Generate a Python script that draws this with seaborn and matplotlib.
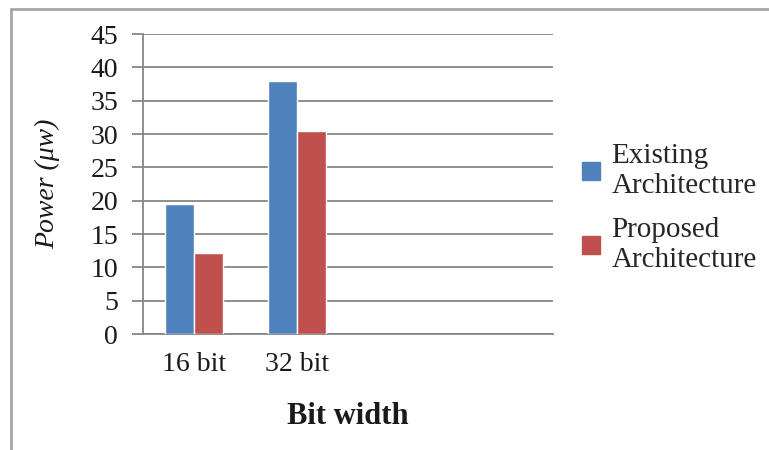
import pandas as pd
import seaborn as sns
import matplotlib.pyplot as plt
from matplotlib.lines import Line2D

# data
bit_widths = ['16 bit', '32 bit']
existing = [19.5, 38.0]
proposed = [12.2, 30.5]
series_names = ['Existing\nArchitecture', 'Proposed\nArchitecture']
colors = ['#4F81BD', '#C0504D']

df = pd.DataFrame({
    'Bit width': bit_widths * 2,
    'Power': existing + proposed,
    'Series': [series_names[0]] * 2 + [series_names[1]] * 2,
})

sns.set_theme(style='white')
plt.rcParams['font.family'] = ['Liberation Serif', 'DejaVu Serif']

fig = plt.figure(figsize=(7.69, 4.5), dpi=100)
ax = fig.add_axes([143/769, 1 - 334/450, (553-143)/769, 300/450])

sns.barplot(data=df, x='Bit width', y='Power', hue='Series', palette=colors,
            width=0.57, saturation=1, ax=ax, zorder=3)

ax.set_xlim(-0.5, 3.5)
ax.set_ylim(0, 45)
ax.set_yticks(range(0, 46, 5))
ax.yaxis.grid(True, color='#868686', linewidth=1.3, zorder=0)
ax.set_axisbelow(True)
for s in ['top', 'right']:
    ax.spines[s].set_visible(False)
for s in ['left', 'bottom']:
    ax.spines[s].set_color('#868686')
    ax.spines[s].set_linewidth(1.3)

ax.tick_params(axis='y', length=8, width=1.3, color='#868686', pad=10,
               labelsize=20, labelcolor='#1a1a1a', left=True)
ax.tick_params(axis='x', length=0, pad=13, labelsize=20, labelcolor='#1a1a1a')

ax.set_xlabel('Bit width', fontsize=22, fontweight='bold', labelpad=18, color='#1a1a1a')
ax.set_ylabel('Power (μw)', fontsize=20, fontstyle='italic', labelpad=22, color='#1a1a1a')

handles = [Line2D([], [], marker='s', linestyle='', markersize=13,
                  markerfacecolor=c, markeredgecolor=c) for c in colors]
ax.legend(handles, series_names, loc='center left', bbox_to_anchor=(1.0, 0.42),
          frameon=False, fontsize=21, handlelength=0.8, handletextpad=0.3,
          labelspacing=0.6)

# frame around the figure (left and top only visible)
fig.add_artist(Line2D([11/769, 11/769], [0, 1 - 9/450], transform=fig.transFigure,
                      color='#a6a6a6', linewidth=2))
fig.add_artist(Line2D([11/769, 1], [1 - 9/450, 1 - 9/450], transform=fig.transFigure,
                      color='#a6a6a6', linewidth=2))

plt.savefig('out.png', dpi=100)
plt.close()
